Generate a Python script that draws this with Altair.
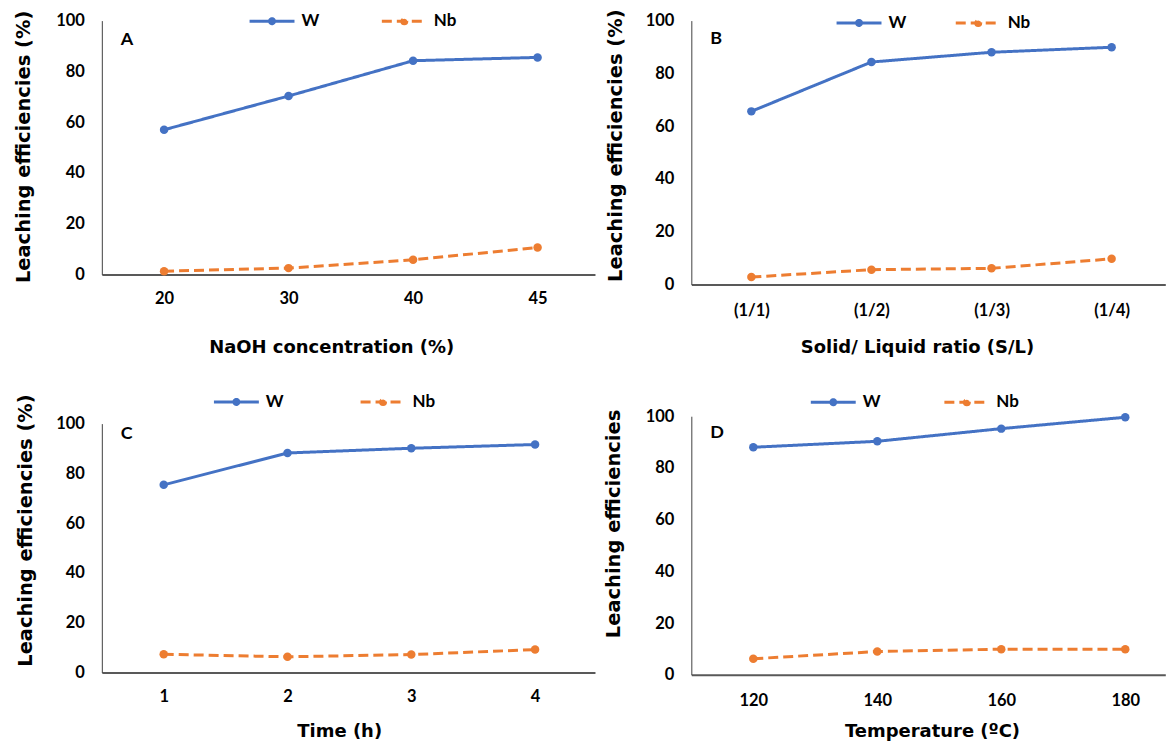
import json
import altair as alt
import pandas as pd

# ---------------- data ----------------
series_names = ["W", "Nb"]
series_colors = ["#4472C4", "#ED7D31"]
series_dashes = [[1, 0], [10, 5]]

panel_letters = ["A", "B", "C", "D"]

a_labels = ["20", "30", "40", "45"]
a_w = [57.0, 70.3, 84.2, 85.5]
a_nb = [1.3, 2.5, 5.8, 10.6]
a_xtitle = "NaOH concentration (%)"
a_ytitle = "Leaching efficiencies (%)"

b_labels = ["(1/1)", "(1/2)", "(1/3)", "(1/4)"]
b_w = [65.6, 84.3, 88.0, 89.9]
b_nb = [2.8, 5.6, 6.1, 9.7]
b_xtitle = "Solid/ Liquid ratio (S/L)"
b_ytitle = "Leaching efficiencies (%)"

c_labels = ["1", "2", "3", "4"]
c_w = [75.4, 88.2, 90.1, 91.6]
c_nb = [7.3, 6.3, 7.2, 9.2]
c_xtitle = "Time (h)"
c_ytitle = "Leaching efficiencies (%)"

d_labels = ["120", "140", "160", "180"]
d_w = [88.0, 90.3, 95.2, 99.6]
d_nb = [6.2, 9.0, 9.9, 9.9]
d_xtitle = "Temperature (ºC)"
d_ytitle = "Leaching efficiencies"

y_ticks = [0, 20, 40, 60, 80, 100]

# ---------------- layout / style ----------------
SYMBOL = "M-4.5,0H4.5M0.5,0A0.5,0.5,0,1,1,-0.5,0A0.5,0.5,0,1,1,0.5,0Z"
TICK_FONT = "Lato"
TITLE_FONT = "DejaVu Sans"

layouts = {
    "A": dict(w=494, h=254.3, top=0.0, xend=3.461, xlp=24.3, xtx=229.8, xty=73.3,
              ytx=-78.2, yty=126.0, lx=162.0, ly=-7.9, cp=56.5, tdy=47.5),
    "B": dict(w=474.8, h=264.3, top=0.0, xend=3.447, xlp=26.0, xtx=226.0, xty=62.7,
              ytx=-76.3, yty=124.8, lx=159.5, ly=-6.2, cp=43.4, tdy=48.0),
    "C": dict(w=494, h=256.7, top=7.4, xend=3.484, xlp=24.0, xtx=237.8, xty=59.0,
              ytx=-76.8, yty=114.0, lx=126.3, ly=-22.8, cp=70.9, tdy=58.6),
    "D": dict(w=474.8, h=259.0, top=0.0, xend=3.323, xlp=25.7, xtx=241.1, xty=56.7,
              ytx=-78.3, yty=107.4, lx=133.7, ly=-22.5, cp=57.8, tdy=57.0),
}


def panel(letter, labels, w_vals, nb_vals, xtitle, ytitle):
    lay = layouts[letter]
    n = len(labels)
    df = pd.DataFrame({
        "idx": list(range(n)) * 2,
        "value": list(w_vals) + list(nb_vals),
        "series": [series_names[0]] * n + [series_names[1]] * n,
    })
    x = alt.X(
        "idx:Q",
        scale=alt.Scale(domain=[-0.5, lay["xend"]], nice=False, zero=False),
        axis=alt.Axis(
            values=list(range(n)), labelExpr=json.dumps(labels) + "[datum.value]",
            title=xtitle, ticks=False, tickSize=0, grid=False,
            labelPadding=lay["xlp"], labelBaseline="middle", labelFont=TICK_FONT,
            labelFontWeight="bold", labelFontSize=16.5, labelColor="black",
            domainColor="#595959", domainWidth=2,
            titleFont=TITLE_FONT, titleFontWeight="bold", titleFontSize=18,
            titleColor="black", titleX=lay["xtx"], titleY=lay["xty"],
            titleAlign="center", titleBaseline="middle", titleAngle=0,
        ),
    )
    y = alt.Y(
        "value:Q",
        scale=alt.Scale(domain=[0, 100], nice=False, zero=True,
                        range=[lay["h"], lay["top"]]),
        axis=alt.Axis(
            values=y_ticks, title=ytitle, ticks=False, tickSize=0, grid=False,
            labelPadding=17.5, labelFont=TICK_FONT, labelFontWeight="bold",
            labelFontSize=16.5, labelColor="black",
            domainColor="#404040", domainWidth=1,
            titleFont=TITLE_FONT, titleFontWeight="bold", titleFontSize=19.5,
            titleColor="black", titleX=lay["ytx"], titleY=lay["yty"],
            titleAlign="center", titleBaseline="middle", titleAngle=270,
        ),
    )
    legend = alt.Legend(
        orient="none", legendX=lay["lx"], legendY=lay["ly"], direction="horizontal",
        title=None, padding=0, symbolType=SYMBOL, symbolSize=100,
        symbolStrokeWidth=3, labelFont=TICK_FONT, labelFontWeight="bold",
        labelFontSize=17, labelColor="black", labelOffset=21,
        columnPadding=lay["cp"],
    )
    base = alt.Chart(df)
    line = base.mark_line(strokeWidth=3, strokeCap="butt").encode(
        x=x, y=y,
        stroke=alt.Stroke("series:N", sort=series_names,
                          scale=alt.Scale(domain=series_names, range=series_colors),
                          legend=legend),
        strokeDash=alt.StrokeDash("series:N", sort=series_names,
                                  scale=alt.Scale(domain=series_names, range=series_dashes),
                                  legend=legend),
    )
    pts = base.mark_circle(size=72, opacity=1).encode(
        x=x, y=y,
        fill=alt.Fill("series:N", sort=series_names,
                      scale=alt.Scale(domain=series_names, range=series_colors),
                      legend=legend),
    )
    return alt.layer(line, pts).properties(
        width=lay["w"], height=lay["h"],
        title=alt.TitleParams(
            text=letter, anchor="start", frame="group", orient="top", offset=0,
            dx=19, dy=lay["tdy"], font=TICK_FONT, fontSize=18, fontWeight="bold",
            color="black", baseline="middle",
        ),
    )


pA = panel("A", a_labels, a_w, a_nb, a_xtitle, a_ytitle)
pB = panel("B", b_labels, b_w, b_nb, b_xtitle, b_ytitle)
pC = panel("C", c_labels, c_w, c_nb, c_xtitle, c_ytitle)
pD = panel("D", d_labels, d_w, d_nb, d_xtitle, d_ytitle)

chart = alt.concat(
    pA, pB, pC, pD, columns=2, bounds="flush",
    spacing={"row": 131.3, "column": 96.5},
).resolve_scale(
    x="independent", y="independent", stroke="independent",
    fill="independent", strokeDash="independent",
).resolve_legend(
    stroke="independent", fill="independent", strokeDash="independent",
).properties(
    padding={"left": 13, "top": 8, "right": 0, "bottom": 0},
    background="white",
).configure_view(stroke=None)

chart.save("out.html", embed_options={"renderer": "svg", "actions": False})
